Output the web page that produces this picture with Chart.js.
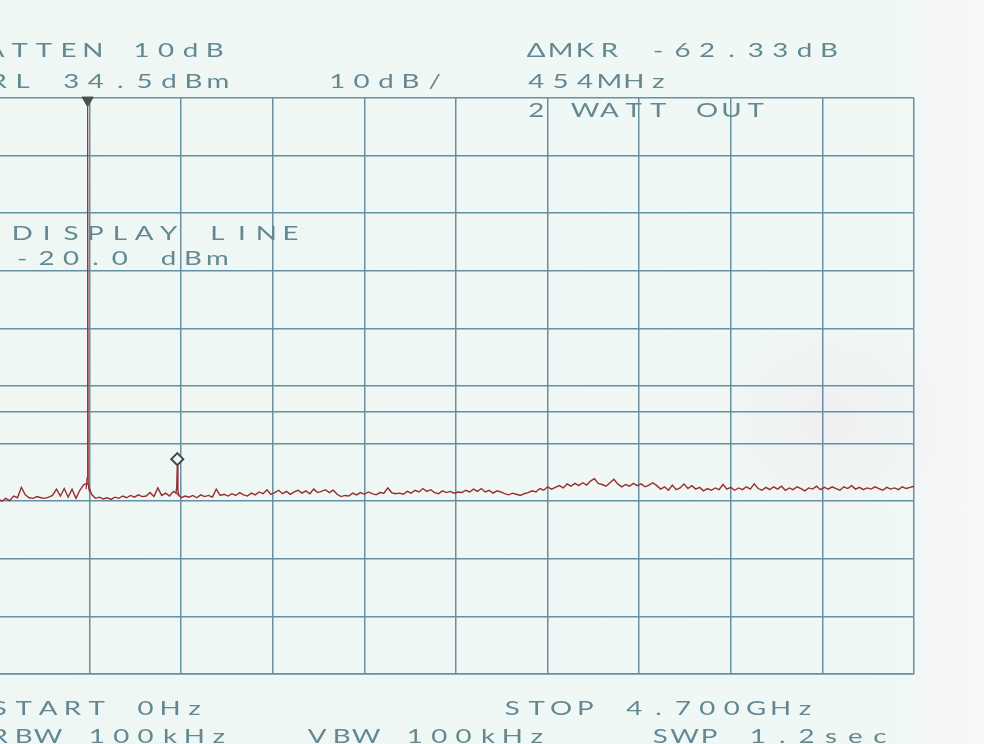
<!DOCTYPE html>
<html>
<head>
<meta charset="utf-8">
<script src="https://cdn.jsdelivr.net/npm/chart.js@4.4.1/dist/chart.umd.min.js"></script>
<style>
  html, body { margin: 0; padding: 0; }
  body {
    width: 984px; height: 744px; overflow: hidden; position: relative;
    background:
      radial-gradient(ellipse 120px 110px at 830px 420px, rgba(240, 228, 238, 0.45), rgba(240, 228, 238, 0) 100%),
      linear-gradient(to right, #eef7f3 0px, #f0f8f5 905px, #f6f5f7 945px, #f8f7f9 984px);
  }
  #spectrum { position: absolute; left: -10px; top: 0; }
</style>
</head>
<body>
<canvas id="spectrum" width="1000" height="744"></canvas>
<script>
// sweep settings (MHz) and display scale (dBm)
const START_MHZ = 0;
const STOP_MHZ = 4700;
const STEP_MHZ = 20;
const REF_LEVEL = 34.5;
const BOTTOM_LEVEL = -65.5;

// vertical graticule (MHz) and horizontal graticule (dBm), incl. display line at -20 dBm
const freqGrid = [0, 470, 940, 1410, 1880, 2350, 2820, 3290, 3760, 4230, 4700];
const levelGrid = [34.5, 24.5, 14.5, 4.5, -5.5, -15.5, -20.0, -25.5, -35.5, -45.5, -55.5, -65.5];

// noise floor trace, one reading every 20 MHz from 0 Hz (dBm)
const traceLevel = [
  -35.1, -35.5, -35.0, -35.4, -34.6, -34.9, -33.1, -34.4, -34.9, -35.0,
  -34.7, -34.9, -35.0, -34.8, -34.5, -33.4, -34.6, -33.3, -34.8, -33.4,
  -35.0, -33.6, -32.6, -32.4, -34.3, -35.0, -34.8, -35.1, -34.9, -35.2,
  -34.8, -35.0, -34.6, -34.9, -34.5, -34.8, -34.4, -34.7, -34.6, -34.0,
  -34.7, -33.2, -34.5, -34.1, -34.6, -33.8, -34.2, -34.9, -34.6, -34.8,
  -34.5, -34.9, -34.4, -34.7, -34.5, -34.8, -33.4, -34.5, -34.3, -34.6,
  -34.2, -34.5, -34.0, -34.4, -34.6, -34.1, -34.4, -33.9, -34.2, -33.5,
  -34.3, -34.0, -33.6, -34.2, -33.8, -34.3, -33.9, -33.6, -34.1, -33.7,
  -34.2, -33.4, -34.0, -33.8, -33.5, -34.0, -33.6, -34.3, -34.7, -34.5,
  -34.6, -34.1, -34.4, -34.0, -34.3, -33.9, -34.2, -34.4, -34.0, -34.1,
  -33.2, -34.0, -34.2, -34.1, -34.3, -33.8, -34.1, -33.6, -33.9, -33.3,
  -33.8, -33.5, -34.0, -34.2, -33.7, -34.0, -33.8, -34.1, -33.9, -34.0,
  -33.6, -33.9, -33.4, -33.8, -33.3, -33.9, -33.6, -34.1, -33.7, -33.9,
  -34.2, -34.4, -34.1, -34.3, -34.5, -34.2, -34.0, -33.7, -33.9, -33.3,
  -33.6, -33.0, -33.4, -33.1, -32.8, -33.2, -32.5, -32.9, -32.4, -32.8,
  -32.3, -32.7, -32.0, -31.6, -32.4, -32.6, -32.9, -32.3, -31.7, -32.5,
  -33.0, -32.6, -32.9, -32.4, -32.8, -32.5, -33.0, -32.7, -32.3, -32.8,
  -33.4, -33.0, -33.6, -32.7, -33.5, -33.2, -32.5, -33.3, -32.8, -33.4,
  -33.1, -33.7, -33.3, -33.6, -33.2, -33.5, -32.6, -33.4, -33.1, -33.6,
  -33.2, -33.5, -33.0, -33.4, -32.5, -33.3, -33.6, -33.1, -33.5, -33.0,
  -33.4, -32.9, -33.6, -33.2, -33.5, -33.0, -33.3, -33.7, -33.2, -33.4,
  -32.9, -33.5, -33.1, -33.4, -33.0, -33.3, -33.6, -33.0, -33.3, -32.8,
  -33.4, -33.1, -33.5, -33.2, -33.4, -33.0, -33.3, -33.6, -33.1, -33.4,
  -33.2, -33.5, -33.0, -33.3, -33.1, -32.9
];

// carrier and its 2nd harmonic, read at finer spacing
const carrierFreq = [452, 457, 460, 463, 468];
const carrierLevel = [-33.4, -31.5, 33.0, -32.2, -33.8];
const harmonicFreq = [912, 917, 920, 923, 928];
const harmonicLevel = [-34.2, -33.2, -29.3, -33.6, -34.6];

// markers: reference (triangle) and delta (diamond)
const refMarkerFreq = [460];
const refMarkerLevel = [34.1];
const deltaMarkerFreq = [920];
const deltaMarkerLevel = [-28.2];

// annotation text
const headerText = ['ATTEN 10dB', 'RL 34.5dBm', '10dB/', '\u0394MKR -62.33dB', '454MHz', '2 WATT OUT'];
const noteText = ['DISPLAY LINE', '-20.0 dBm'];
const footerText = ['START 0Hz', 'STOP 4.700GHz', 'RBW 100kHz', 'VBW 100kHz', 'SWP 1.2sec'];

// page positions (x of first char cell, baseline y) for each text line
const headerPos = [[-17, 57], [-14, 88], [325, 88], [524, 57], [524, 88], [524, 117]];
const notePos = [[10, 240], [10, 265]];
const footerPos = [[-13, 715], [500, 715], [-13, 743], [305, 743], [648, 743]];

const GRID_COLOR = '#6790a3';
const TEXT_COLOR = '#648893';
const TRACE_COLOR = '#982c31';
const CANVAS_SHIFT = 10; // canvas sits 10px left of the page edge
const PITCH = 24.4;

const pts = (xs, ys) => xs.map((x, i) => ({ x: x, y: ys[i] }));
const traceData = traceLevel.map((v, i) => ({ x: START_MHZ + i * STEP_MHZ, y: v }));

// plotter style lettering: fixed cell pitch, widened glyphs
const plotterText = {
  id: 'plotterText',
  afterDraw(chart) {
    const ctx = chart.ctx;
    ctx.save();
    ctx.fillStyle = TEXT_COLOR;
    ctx.font = '400 19.5px Lato';
    ctx.textAlign = 'center';
    ctx.textBaseline = 'alphabetic';
    const lines = headerText.concat(noteText, footerText);
    const pos = headerPos.concat(notePos, footerPos);
    lines.forEach((txt, n) => {
      const [x0, y0] = pos[n];
      [...txt].forEach((ch, i) => {
        if (ch === ' ') return;
        ctx.save();
        ctx.translate(x0 + CANVAS_SHIFT + i * PITCH + PITCH / 2, y0);
        ctx.scale(1.42, 1);
        ctx.fillText(ch, 0, 0);
        ctx.restore();
      });
    });
    ctx.restore();
  }
};

const gridOpts = { color: GRID_COLOR, lineWidth: 1.5, drawTicks: false };

new Chart(document.getElementById('spectrum'), {
  type: 'line',
  data: {
    datasets: [
      { data: traceData, borderColor: TRACE_COLOR, borderWidth: 1.4, pointRadius: 0, tension: 0, order: 2 },
      { data: pts(carrierFreq, carrierLevel), borderColor: TRACE_COLOR, borderWidth: 1.2, pointRadius: 0, tension: 0, order: 2 },
      { data: pts(harmonicFreq, harmonicLevel), borderColor: TRACE_COLOR, borderWidth: 1.4, pointRadius: 0, tension: 0, order: 2 },
      {
        data: pts(refMarkerFreq, refMarkerLevel), showLine: false, clip: false, order: 0,
        pointStyle: 'triangle', rotation: 180, pointRadius: 6.5,
        backgroundColor: '#46524f', borderColor: '#46524f', borderWidth: 1
      },
      {
        data: pts(deltaMarkerFreq, deltaMarkerLevel), showLine: false, clip: false, order: 0,
        pointStyle: 'rectRot', pointRadius: 6,
        backgroundColor: '#eef6f2', borderColor: '#3c4848', borderWidth: 2
      }
    ]
  },
  options: {
    responsive: false,
    animation: false,
    layout: { padding: { left: CANVAS_SHIFT - 3.8, right: 76, top: 98, bottom: 70 } },
    plugins: { legend: { display: false }, tooltip: { enabled: false } },
    scales: {
      x: {
        type: 'linear', min: START_MHZ, max: STOP_MHZ,
        afterBuildTicks: axis => { axis.ticks = freqGrid.map(v => ({ value: v })); },
        ticks: { display: false },
        grid: gridOpts,
        border: { color: GRID_COLOR, width: 1.5 }
      },
      y: {
        type: 'linear', min: BOTTOM_LEVEL, max: REF_LEVEL,
        afterBuildTicks: axis => { axis.ticks = levelGrid.map(v => ({ value: v })); },
        ticks: { display: false },
        grid: gridOpts,
        border: { color: GRID_COLOR, width: 1.5 }
      }
    }
  },
  plugins: [plotterText]
});
</script>
</body>
</html>
